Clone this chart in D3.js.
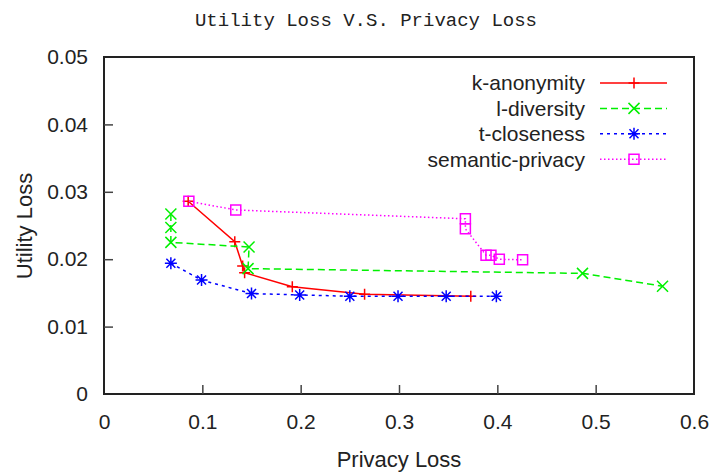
<!DOCTYPE html>
<html>
<head>
<meta charset="utf-8">
<script src="https://cdn.jsdelivr.net/npm/d3@7"></script>
<style>
  body { margin: 0; background: #fff; }
  text { font-family: "Liberation Sans", Arial, sans-serif; fill: #222; }
</style>
</head>
<body>
<svg id="chart"></svg>
<script>
// privacy loss (x) / utility loss (y) for each method
const kAnonX = [0.0856, 0.133, 0.141, 0.143, 0.1915, 0.265, 0.373];
const kAnonY = [0.0286, 0.0226, 0.019, 0.018, 0.0159, 0.0148, 0.0145];

const lDivX = [0.068, 0.068, 0.068, 0.1475, 0.1465, 0.4866, 0.568];
const lDivY = [0.0267, 0.0247, 0.0225, 0.0218, 0.0186, 0.0179, 0.016];

const tCloseX = [0.068, 0.0992, 0.15, 0.199, 0.25, 0.299, 0.348, 0.399];
const tCloseY = [0.0194, 0.0169, 0.0149, 0.0147, 0.0145, 0.0145, 0.0145, 0.0145];

const semX = [0.0863, 0.134, 0.3675, 0.3675, 0.3885, 0.3935, 0.402, 0.4257];
const semY = [0.0286, 0.0273, 0.026, 0.0245, 0.0206, 0.0206, 0.02, 0.0199];

const seriesNames = ["k-anonymity", "l-diversity", "t-closeness", "semantic-privacy"];
const xTicks = [0, 0.1, 0.2, 0.3, 0.4, 0.5, 0.6];
const yTicks = [0, 0.01, 0.02, 0.03, 0.04, 0.05];

function init() {
  const width = 713,
    height = 475;
  const left = 104,
    right = 694,
    top = 57,
    bottom = 394;

  const svg = d3.select("#chart").attr("width", width).attr("height", height);

  const x = d3.scaleLinear().domain([0, 0.6]).range([left, right]);
  const y = d3.scaleLinear().domain([0, 0.05]).range([bottom, top]);

  const series = [
    { name: seriesNames[0], xs: kAnonX, ys: kAnonY, color: "#ff0000", dash: null, mark: "plus" },
    { name: seriesNames[1], xs: lDivX, ys: lDivY, color: "#00f000", dash: "7,4", mark: "cross" },
    { name: seriesNames[2], xs: tCloseX, ys: tCloseY, color: "#0000ff", dash: "3,4", mark: "star" },
    { name: seriesNames[3], xs: semX, ys: semY, color: "#ff00ff", dash: "1.5,2.5", mark: "square" },
  ];

  // frame
  svg
    .append("rect")
    .attr("x", left)
    .attr("y", top)
    .attr("width", right - left)
    .attr("height", bottom - top)
    .attr("fill", "none")
    .attr("stroke", "#222")
    .style("stroke-width", "2px");

  // axes (ticks drawn inward)
  const xAxis = svg
    .append("g")
    .attr("transform", `translate(0, ${bottom})`)
    .call(d3.axisBottom(x).tickValues(xTicks).tickSize(-9).tickPadding(20).tickFormat(d3.format("")));
  const yAxis = svg
    .append("g")
    .attr("transform", `translate(${left}, 0)`)
    .call(d3.axisLeft(y).tickValues(yTicks).tickSize(-9).tickPadding(16).tickFormat(d3.format("")));

  [xAxis, yAxis].forEach((a) => {
    a.select(".domain").remove();
    a.selectAll(".tick line").attr("stroke", "#444").style("stroke-width", "1.5px");
    a.selectAll(".tick text")
      .style("font-size", "21px")
      .style("font-family", '"Liberation Sans", Arial, sans-serif')
      .attr("fill", "#222");
  });
  xAxis.selectAll(".tick")
    .filter((d) => d == 0 || d == 0.6)
    .select("line")
    .remove();
  yAxis.selectAll(".tick")
    .filter((d) => d == 0 || d == 0.05)
    .select("line")
    .remove();

  // title and axis labels
  svg
    .append("text")
    .attr("x", 366)
    .attr("y", 26)
    .style("text-anchor", "middle")
    .style("font-family", '"Liberation Mono", "Courier New", monospace')
    .style("font-size", "19px")
    .attr("fill", "#444")
    .text("Utility Loss V.S. Privacy Loss");

  svg
    .append("text")
    .attr("x", (left + right) / 2)
    .attr("y", 467)
    .style("text-anchor", "middle")
    .style("font-size", "22px")
    .text("Privacy Loss");

  svg
    .append("text")
    .attr("transform", `translate(32, 226) rotate(-90)`)
    .style("text-anchor", "middle")
    .style("font-size", "22px")
    .text("Utility Loss");

  const line = d3
    .line()
    .x((d) => x(d[0]))
    .y((d) => y(d[1]));

  series.forEach((s) => {
    const pts = s.xs.map((v, i) => [v, s.ys[i]]);
    svg
      .append("path")
      .datum(pts)
      .attr("d", line)
      .attr("fill", "none")
      .attr("stroke", s.color)
      .attr("stroke-dasharray", s.dash)
      .style("stroke-width", "1.5px");

    svg
      .selectAll("path.mark-" + s.mark)
      .data(pts)
      .join("path")
      .attr("class", "mark-" + s.mark)
      .attr("d", (d) => marker(s.mark, x(d[0]), y(d[1])))
      .attr("fill", "none")
      .attr("stroke", s.color)
      .style("stroke-width", "1.5px");
  });

  // legend
  const legend = svg.append("g");
  series.forEach((s, i) => {
    const ly = 83 + i * 25.4;
    legend
      .append("text")
      .attr("x", 585)
      .attr("y", ly)
      .attr("dy", "0.35em")
      .style("text-anchor", "end")
      .style("font-size", "21px")
      .text(s.name);
    legend
      .append("line")
      .attr("x1", 600)
      .attr("x2", 667)
      .attr("y1", ly)
      .attr("y2", ly)
      .attr("stroke", s.color)
      .attr("stroke-dasharray", s.dash)
      .style("stroke-width", "1.5px");
    legend
      .append("path")
      .attr("d", marker(s.mark, 634, ly))
      .attr("fill", "none")
      .attr("stroke", s.color)
      .style("stroke-width", "1.5px");
  });
}

function marker(type, cx, cy) {
  const p = d3.path();
  if (type == "plus" || type == "star") {
    const r = type == "plus" ? 5.5 : 6;
    p.moveTo(cx - r, cy);
    p.lineTo(cx + r, cy);
    p.moveTo(cx, cy - r);
    p.lineTo(cx, cy + r);
  }
  if (type == "cross" || type == "star") {
    const r = type == "cross" ? 5.5 : 4.5;
    p.moveTo(cx - r, cy - r);
    p.lineTo(cx + r, cy + r);
    p.moveTo(cx - r, cy + r);
    p.lineTo(cx + r, cy - r);
  }
  if (type == "square") {
    p.rect(cx - 5, cy - 5, 10, 10);
  }
  return p.toString();
}

init();
</script>
</body>
</html>
